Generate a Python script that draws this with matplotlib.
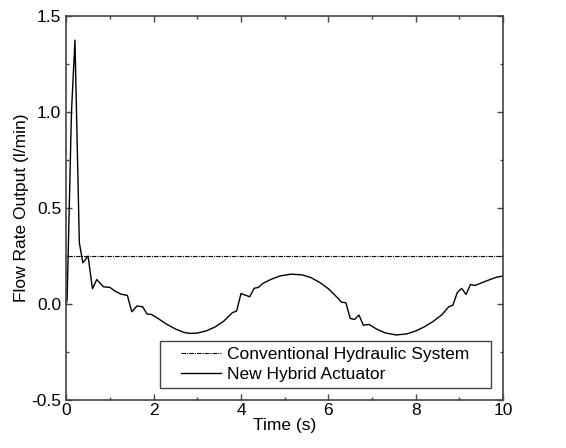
import matplotlib
matplotlib.use("Agg")
import matplotlib.pyplot as plt
from matplotlib.ticker import MultipleLocator
from matplotlib.patches import Rectangle

plt.rcParams['font.family'] = ['Liberation Sans', 'DejaVu Sans']

t_hybrid = [0.0, 0.02, 0.12, 0.20, 0.30, 0.38, 0.50, 0.60, 0.70, 0.85, 1.00, 1.10,
            1.25, 1.40, 1.50, 1.62, 1.75, 1.85, 1.95, 2.1, 2.3, 2.5, 2.7, 2.85,
            3.0, 3.2, 3.4, 3.6, 3.8, 3.9, 4.0, 4.2, 4.3, 4.4, 4.5, 4.7, 4.9,
            5.15, 5.4, 5.6, 5.8, 6.0, 6.2, 6.3, 6.4, 6.5, 6.6, 6.7, 6.8, 6.93,
            7.1, 7.3, 7.55, 7.8, 8.0, 8.2, 8.4, 8.6, 8.75, 8.85, 8.95, 9.05,
            9.15, 9.25, 9.35, 9.5, 9.7, 9.85, 10.0]
q_hybrid = [0.0, 0.02, 1.0, 1.375, 0.32, 0.215, 0.25, 0.08, 0.128, 0.09, 0.087, 0.07,
            0.052, 0.045, -0.04, -0.01, -0.014, -0.052, -0.054, -0.075, -0.105, -0.13, -0.148, -0.153,
            -0.151, -0.14, -0.12, -0.09, -0.045, -0.036, 0.055, 0.038, 0.082, 0.087, 0.108, 0.13, 0.147,
            0.156, 0.152, 0.138, 0.113, 0.08, 0.035, 0.01, 0.007, -0.075, -0.08, -0.057, -0.11, -0.106,
            -0.13, -0.15, -0.161, -0.155, -0.14, -0.118, -0.09, -0.055, -0.015, -0.005, 0.06, 0.082,
            0.05, 0.102, 0.097, 0.11, 0.128, 0.14, 0.146]
t_conv = [0.05, 10.0]
q_conv = [0.25, 0.25]

fig = plt.figure(figsize=(5.66, 4.48), dpi=100)
ax = fig.add_axes([0.117, 0.107, 0.772, 0.857])

ax.plot(t_conv, q_conv, color='black', lw=0.8,
        linestyle=(0, (4, 1, 1, 1)), label='Conventional Hydraulic System')
ax.plot(t_hybrid, q_hybrid, color='black', lw=1.0, label='New Hybrid Actuator')

ax.set_xlim(0, 10)
ax.set_ylim(-0.5, 1.5)
ax.xaxis.set_minor_locator(MultipleLocator(1))
ax.yaxis.set_minor_locator(MultipleLocator(0.25))
ax.set_xticks([0, 2, 4, 6, 8, 10])
ax.set_xticklabels(['0', '2', '4', '6', '8', '10'])
ax.set_yticks([-0.5, 0.0, 0.5, 1.0, 1.5])
ax.set_yticklabels(['-0.5', '0.0', '0.5', '1.0', '1.5'])

for s in ax.spines.values():
    s.set_color('#444444')
    s.set_linewidth(1.2)
ax.tick_params(which='both', direction='in', top=True, right=True,
               colors='#444444', labelcolor='black', labelsize=12.5)
ax.tick_params(which='major', length=4, width=1)
ax.tick_params(which='minor', length=2.5, width=1)
ax.tick_params(axis='x', pad=2)

ax.set_xlabel('Time (s)', fontsize=12.5, labelpad=0)
ax.set_ylabel('Flow Rate Output (l/min)', fontsize=12.5, labelpad=2)

frame = Rectangle((0.214, 0.031), 0.759, 0.123, transform=ax.transAxes,
                  facecolor='white', edgecolor='#444444', lw=1.0, zorder=4)
ax.add_patch(frame)
leg = ax.legend(loc='center', bbox_to_anchor=(0.5935, 0.0925),
                fontsize=12.5, frameon=False, borderpad=0, labelspacing=0.3,
                handlelength=2.3, handletextpad=0.35, borderaxespad=0)
leg.set_zorder(5)
leg._legend_box.align = 'left'

fig.savefig('out.png', dpi=100)
